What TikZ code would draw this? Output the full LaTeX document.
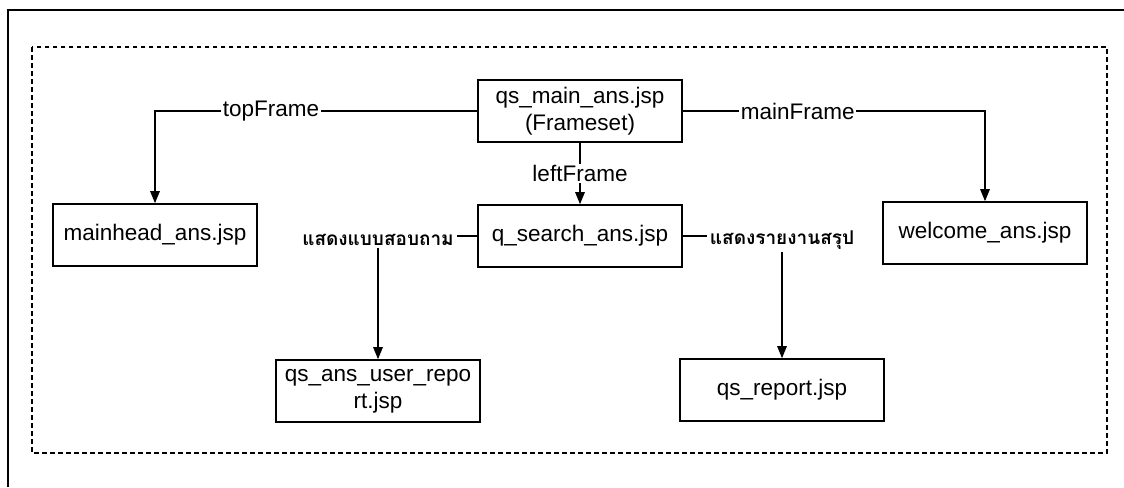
\documentclass[tikz,border=0pt]{standalone}
\usepackage{fontspec}
\setmainfont{Liberation Sans}
\newfontfamily\thaifont[Script=Thai]{Loma}
\usetikzlibrary{arrows.meta}
\tikzset{
    filebox/.style = {rectangle, very thick, draw=black, minimum width=5.1cm, minimum height=1.55cm, inner sep=0pt, align=center},
    edgen/.style = {-{Triangle[length=0.3cm,width=0.24cm]}, thick},
    lbl/.style = {fill=white, inner sep=1pt},
    lblth/.style = {fill=white, inner sep=2pt, yshift=-0.1cm, font={\fontsize{13.5}{16}\thaifont\bfseries\selectfont}},
    frame/.style = {very thick},
    dashframe/.style = {very thick, dash pattern=on 0.12cm off 0.08cm}
}

\begin{document}
\begin{tikzpicture}[x=0.025cm, y=-0.025cm, font=\fontsize{16}{19}\selectfont]
\useasboundingbox (0,0) rectangle (1124,487);
% frames
\draw[frame] (8,487) -- (8,10) -- (1124,10);
\draw[dashframe] (32,47) rectangle (1107,453);

\node[filebox] at (580,111) (main) {qs\_main\_ans.jsp\\(Frameset)};
\node[filebox] at (155,235) (mainhead) {mainhead\_ans.jsp};
\node[filebox] at (580,236) (qsearch) {q\_search\_ans.jsp};
\node[filebox] at (985,233) (welcome) {welcome\_ans.jsp};
\node[filebox] at (378,391) (userrep) {qs\_ans\_user\_repo\\rt.jsp};
\node[filebox] at (782,390) (report) {qs\_report.jsp};
%
\draw[edgen] (main.west) -| node[lbl, pos=0.32] {topFrame} (mainhead.north);
\draw[edgen] (main.east) -| node[lbl, pos=0.19] {mainFrame} (welcome.north);
\draw[edgen] (main.south) -- node[lbl] {leftFrame} (qsearch.north);
\draw[edgen] (qsearch.west) -| node[lblth, pos=0.5] {แสดงแบบสอบถาม} (userrep.north);
\draw[edgen] (qsearch.east) -| node[lblth, pos=0.5] {แสดงรายงานสรุป} (report.north);
\end{tikzpicture}
\end{document}
